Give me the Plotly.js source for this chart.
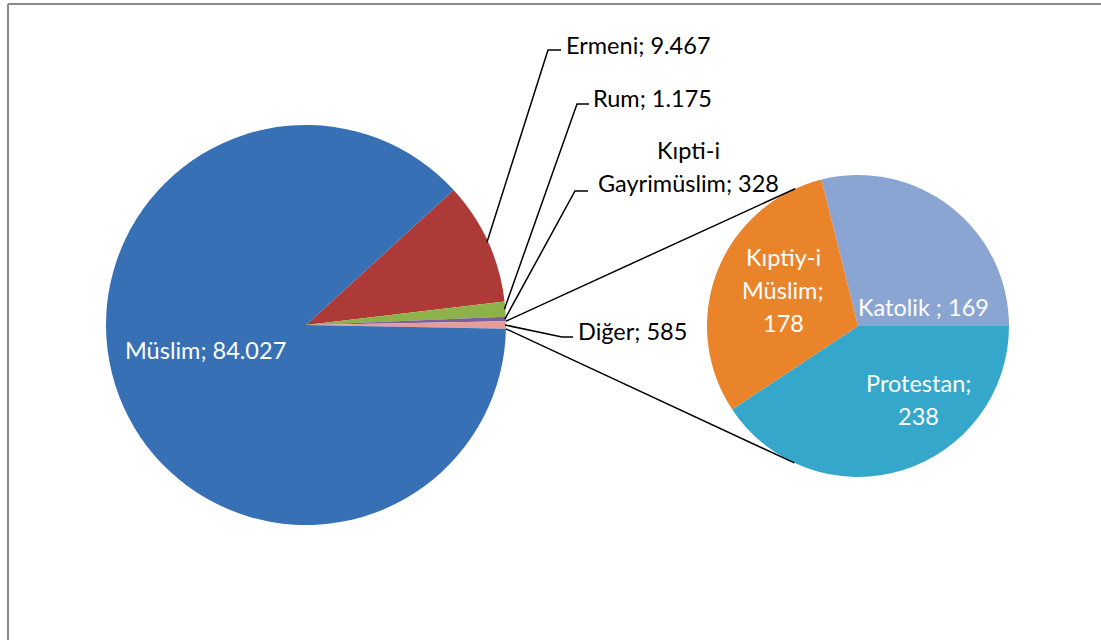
<!DOCTYPE html>
<html>
<head>
<meta charset="utf-8">
<script src="https://cdn.plot.ly/plotly-3.0.1.min.js"></script>
<style>
  html, body { margin: 0; padding: 0; background: #ffffff; }
  #chart { width: 1101px; height: 640px; }
</style>
</head>
<body>
<div id="chart"></div>
<script>
// ---------------- DATA ----------------
// Main pie (clockwise order as drawn)
const mainLabels = ['Ermeni', 'Rum', 'Kıpti-i Gayrimüslim', 'Diğer', 'Müslim'];
const mainValues = [9467, 1175, 328, 585, 84027];
const mainColors = ['#ad3a36', '#8db249', '#7b5e9f', '#e89c9a', '#3870b6'];

// Secondary pie ("Diğer" broken down), clockwise order as drawn
const secLabels = ['Katolik ', 'Protestan', 'Kıptiy-i Müslim'];
const secValues = [169, 238, 178];
const secColors = ['#8ba5d3', '#34a7ca', '#e9842b'];

// ---------------- LAYOUT CONSTANTS ----------------
const W = 1101, H = 640;
const MAIN = { cx: 306, cy: 325, r: 200 };
const SEC  = { cx: 858, cy: 326, r: 151 };
const FONT = 'Lato, "Open Sans", sans-serif';
const FS = 23.5;
const LINE_H = 33;

// label placement
const mainLabelLayout = {
  'Ermeni':              { x: 564, y: 45,  xa: 'left',   lines: [3], color: '#000', leader: [548, 50, 561] },
  'Rum':                 { x: 591, y: 98,  xa: 'left',   lines: [3], color: '#000', leader: [577, 104, 589] },
  'Kıpti-i Gayrimüslim': { x: 688, y: 150, xa: 'center', lines: [1, 2], color: '#000', leader: [575, 191, 588] },
  'Diğer':               { x: 576, y: 331, xa: 'left',   lines: [2], color: '#000', leader: [562, 337, 573] },
  'Müslim':              { x: 205, y: 350, xa: 'center', lines: [3], color: '#fff', leader: null }
};
const secLabelLayout = {
  'Katolik ':        { x: 923, y: 307, xa: 'center', lines: [3], color: '#fff' },
  'Protestan':       { x: 918, y: 383, xa: 'center', lines: [1, 1], color: '#fff' },
  'Kıptiy-i Müslim': { x: 783, y: 257, xa: 'center', lines: [1, 1, 1], color: '#fff' }
};

// ---------------- HELPERS ----------------
function fmt(v) { return String(v).replace(/\B(?=(\d{3})+(?!\d))/g, '.'); }
function sum(a) { return a.reduce((s, v) => s + v, 0); }
function domainOf(p) {
  return {
    x: [(p.cx - p.r) / W, (p.cx + p.r) / W],
    y: [1 - (p.cy + p.r) / H, 1 - (p.cy - p.r) / H]
  };
}
function pt(p, angDeg, rr) {
  const a = angDeg * Math.PI / 180;
  const r = rr === undefined ? p.r : rr;
  return [p.cx + r * Math.sin(a), p.cy - r * Math.cos(a)];
}
const px = x => x / W;
const py = y => 1 - y / H;

const mainTotal = sum(mainValues);
const digerIdx = mainLabels.indexOf('Diğer');
const beforeDiger = sum(mainValues.slice(0, digerIdx));
const mainRotation = 90 - (beforeDiger + mainValues[digerIdx] / 2) / mainTotal * 360;
const secTotal = sum(secValues);
const secRotation = 90 - secValues[0] / secTotal * 360;

function sliceAngles(values, rotation) {
  const tot = sum(values);
  let cum = 0;
  return values.map(v => {
    const a0 = rotation + cum / tot * 360;
    cum += v;
    const a1 = rotation + cum / tot * 360;
    return { a0, a1, mid: (a0 + a1) / 2 };
  });
}
const mainAng = sliceAngles(mainValues, mainRotation);

// ---------------- TRACES ----------------
const traces = [
  {
    type: 'pie', labels: mainLabels, values: mainValues, sort: false,
    direction: 'clockwise', rotation: mainRotation,
    domain: domainOf(MAIN),
    marker: { colors: mainColors, line: { width: 0 } },
    textinfo: 'none', hoverinfo: 'skip', showlegend: false
  },
  {
    type: 'pie', labels: secLabels, values: secValues, sort: false,
    direction: 'clockwise', rotation: secRotation,
    domain: domainOf(SEC),
    marker: { colors: secColors, line: { width: 0 } },
    textinfo: 'none', hoverinfo: 'skip', showlegend: false
  }
];

// ---------------- ANNOTATIONS & SHAPES ----------------
const annotations = [];
const shapes = [];

function addLabel(text, L) {
  const words = text.split(' ');
  let idx = 0;
  L.lines.forEach((n, li) => {
    const line = words.slice(idx, idx + n).join(' ');
    idx += n;
    annotations.push({
      xref: 'paper', yref: 'paper', x: px(L.x), y: py(L.y + li * LINE_H),
      xanchor: L.xa, yanchor: 'middle', showarrow: false,
      text: line, font: { family: FONT, size: FS, color: L.color }
    });
  });
}

mainLabels.forEach((lab, i) => {
  const L = mainLabelLayout[lab];
  addLabel(lab + '; ' + fmt(mainValues[i]), L);
  if (L.leader) {
    const e = pt(MAIN, mainAng[i].mid, MAIN.r - 1);
    const [ex, ey, endX] = L.leader;
    shapes.push({
      type: 'path', xref: 'paper', yref: 'paper',
      path: `M ${px(e[0])} ${py(e[1])} L ${px(ex)} ${py(ey)} L ${px(endX)} ${py(ey)}`,
      line: { color: '#000', width: 1.5 }
    });
  }
});
secLabels.forEach((lab, i) => {
  addLabel(lab + '; ' + fmt(secValues[i]), secLabelLayout[lab]);
});

function tangent(P, upper) {
  const dx = P[0] - SEC.cx, dy = P[1] - SEC.cy;
  const d = Math.hypot(dx, dy);
  const th = Math.atan2(dy, dx);
  const phi = Math.acos(SEC.r / d);
  const c1 = [SEC.cx + SEC.r * Math.cos(th + phi), SEC.cy + SEC.r * Math.sin(th + phi)];
  const c2 = [SEC.cx + SEC.r * Math.cos(th - phi), SEC.cy + SEC.r * Math.sin(th - phi)];
  if (upper) return c1[1] < c2[1] ? c1 : c2;
  return c1[1] > c2[1] ? c1 : c2;
}
const pUp = pt(MAIN, mainAng[digerIdx].a0);
const pDn = pt(MAIN, mainAng[digerIdx].a1);
[[pUp, true], [pDn, false]].forEach(([P, up]) => {
  const T = tangent(P, up);
  shapes.push({
    type: 'line', xref: 'paper', yref: 'paper',
    x0: px(P[0]), y0: py(P[1]), x1: px(T[0]), y1: py(T[1]),
    line: { color: '#000', width: 1.5 }
  });
});

shapes.push({ type: 'line', xref: 'paper', yref: 'paper', x0: px(8), y0: py(4), x1: 1.01, y1: py(4), line: { color: '#8a8a8a', width: 2 } });
shapes.push({ type: 'line', xref: 'paper', yref: 'paper', x0: px(8), y0: py(4), x1: px(8), y1: -0.01, line: { color: '#8a8a8a', width: 2 } });

const layout = {
  width: W, height: H,
  margin: { l: 0, r: 0, t: 0, b: 0 },
  paper_bgcolor: '#ffffff',
  showlegend: false,
  annotations: annotations,
  shapes: shapes
};

Plotly.newPlot('chart', traces, layout, { staticPlot: true, displayModeBar: false });
</script>
</body>
</html>
